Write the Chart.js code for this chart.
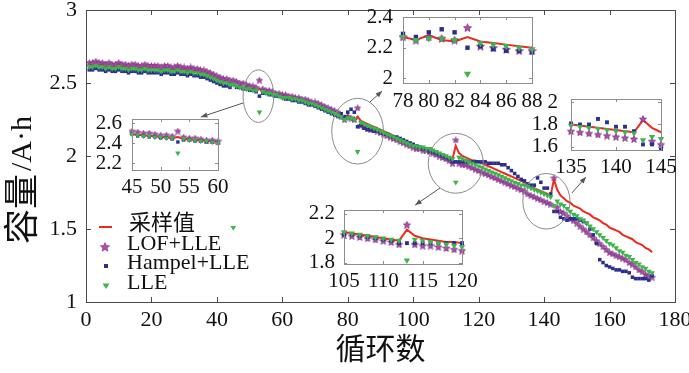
<!DOCTYPE html>
<html>
<head>
<meta charset="utf-8">
<title>容量</title>
<script src="https://cdn.jsdelivr.net/npm/chart.js@4.4.1/dist/chart.umd.min.js"></script>
<style>
html, body { margin: 0; padding: 0; background: #fff; }
#wrap { position: relative; width: 689px; height: 373px; overflow: hidden; }
#wrap canvas { position: absolute; }
.lg { position: absolute; font-family: "Liberation Serif", "Noto Sans CJK SC", serif; font-size: 22px; line-height: 22px; color: #111; white-space: nowrap; }
.mk { position: absolute; }
</style>
</head>
<body>
<div id="wrap">
  <canvas id="main" width="689" height="373" style="left:0;top:0;width:689px;height:373px"></canvas>
  <canvas id="in1"></canvas>
  <canvas id="in2"></canvas>
  <canvas id="in3"></canvas>
  <canvas id="in4"></canvas>
  <div id="legend"></div>
</div>
<script>
// labels and ticks
const legendLabels = ['采样值', 'LOF+LLE', 'Hampel+LLE', 'LLE'];
const xTitle = '循环数';
const yTitle = '容量/A·h';
const xTicksMain = [0, 20, 40, 60, 80, 100, 120, 140, 160, 180];
const yTicksMain = [1, 1.5, 2, 2.5, 3];
const in1XTicks = [45, 50, 55, 60], in1YTicks = [2.2, 2.4, 2.6];
const in2XTicks = [78, 80, 82, 84, 86, 88], in2YTicks = [2, 2.2, 2.4];
const in3XTicks = [105, 110, 115, 120], in3YTicks = [1.8, 2, 2.2];
const in4XTicks = [135, 140, 145], in4YTicks = [1.6, 1.8, 2];

// capacity per cycle (cycle 1..173)
const sampled = [
 2.62,2.62,2.63,2.62,2.62,2.61,2.62,2.61,2.61,2.62,
 2.61,2.61,2.60,2.61,2.61,2.60,2.60,2.61,2.60,2.60,
 2.60,2.60,2.59,2.60,2.60,2.59,2.59,2.60,2.59,2.59,
 2.58,2.59,2.58,2.58,2.57,2.57,2.56,2.55,2.54,2.53,
 2.52,2.51,2.51,2.50,2.49,2.48,2.48,2.47,2.47,2.46,
 2.46,2.45,2.46,2.44,2.44,2.43,2.43,2.42,2.42,2.41,
 2.41,2.40,2.40,2.39,2.39,2.38,2.38,2.37,2.36,2.36,
 2.35,2.34,2.33,2.32,2.31,2.30,2.29,2.27,2.25,2.28,
 2.25,2.24,2.27,2.24,2.23,2.22,2.21,2.20,2.19,2.18,
 2.17,2.16,2.15,2.14,2.13,2.12,2.11,2.10,2.09,2.08,
 2.07,2.06,2.06,2.05,2.05,2.04,2.03,2.02,2.01,2.00,
 1.99,1.98,2.07,2.02,2.00,1.99,1.98,1.97,1.97,1.96,
 1.95,1.94,1.93,1.92,1.91,1.90,1.89,1.88,1.87,1.86,
 1.85,1.84,1.83,1.82,1.80,1.79,1.78,1.77,1.76,1.75,
 1.74,1.73,1.84,1.77,1.73,1.71,1.69,1.68,1.66,1.65,
 1.64,1.62,1.61,1.60,1.58,1.57,1.56,1.54,1.53,1.51,
 1.50,1.49,1.48,1.46,1.45,1.44,1.43,1.41,1.40,1.39,
 1.37,1.36,1.34
];
const lofLle = [
 2.64,2.64,2.65,2.64,2.64,2.63,2.64,2.63,2.63,2.64,
 2.63,2.63,2.62,2.63,2.63,2.62,2.62,2.63,2.62,2.62,
 2.62,2.62,2.61,2.62,2.62,2.61,2.61,2.62,2.61,2.61,
 2.60,2.61,2.60,2.60,2.59,2.59,2.58,2.57,2.56,2.55,
 2.54,2.53,2.53,2.52,2.52,2.51,2.50,2.50,2.49,2.48,
 2.48,2.47,2.52,2.46,2.45,2.45,2.44,2.43,2.43,2.42,
 2.42,2.41,2.41,2.40,2.40,2.39,2.39,2.38,2.37,2.37,
 2.36,2.35,2.34,2.33,2.32,2.31,2.30,2.27,2.25,2.27,
 2.26,2.25,2.33,2.21,2.20,2.19,2.18,2.18,2.17,2.16,
 2.15,2.14,2.13,2.12,2.11,2.10,2.09,2.08,2.07,2.06,
 2.05,2.05,2.04,2.04,2.03,2.02,2.01,2.00,1.99,1.98,
 1.97,1.95,2.11,1.95,1.94,1.94,1.93,1.92,1.91,1.90,
 1.89,1.88,1.87,1.86,1.85,1.84,1.83,1.82,1.81,1.80,
 1.79,1.78,1.77,1.76,1.74,1.73,1.72,1.71,1.70,1.69,
 1.68,1.67,1.85,1.65,1.62,1.61,1.59,1.57,1.56,1.54,
 1.52,1.50,1.48,1.46,1.44,1.42,1.40,1.38,1.36,1.34,
 1.33,1.32,1.31,1.30,1.29,1.27,1.26,1.24,1.22,1.21,
 1.19,1.18,1.17
];
const hampelLle = [
 2.59,2.59,2.60,2.59,2.59,2.58,2.59,2.58,2.58,2.59,
 2.58,2.58,2.57,2.58,2.58,2.57,2.57,2.58,2.57,2.57,
 2.57,2.57,2.56,2.57,2.57,2.56,2.56,2.57,2.56,2.56,
 2.55,2.56,2.55,2.55,2.54,2.54,2.53,2.52,2.51,2.50,
 2.49,2.48,2.48,2.47,2.49,2.47,2.47,2.46,2.46,2.45,
 2.45,2.44,2.41,2.43,2.43,2.42,2.42,2.41,2.41,2.40,
 2.39,2.39,2.38,2.38,2.37,2.37,2.36,2.35,2.35,2.34,
 2.33,2.32,2.31,2.30,2.29,2.28,2.27,2.29,2.27,2.30,
 2.32,2.30,2.20,2.21,2.19,2.18,2.18,2.17,2.17,2.16,
 2.15,2.15,2.14,2.13,2.13,2.12,2.11,2.10,2.09,2.08,
 2.07,2.06,2.05,2.05,2.03,2.03,2.02,2.01,2.00,1.99,
 1.98,1.96,1.96,1.96,1.96,1.96,1.96,1.96,1.96,1.96,
 1.96,1.96,1.95,1.95,1.95,1.95,1.94,1.94,1.92,1.90,
 1.88,1.86,1.84,1.83,1.81,1.80,1.80,1.85,1.82,1.78,
 1.78,1.74,1.62,1.62,1.58,1.57,1.56,1.57,1.57,1.57,
 1.56,1.55,1.54,1.50,1.46,1.40,1.29,1.27,1.25,1.24,
 1.23,1.22,1.22,1.21,1.21,1.20,1.17,1.16,1.16,1.16,
 1.16,1.15,1.18
];
const lle = [
 2.61,2.61,2.62,2.61,2.61,2.60,2.61,2.60,2.60,2.61,
 2.60,2.60,2.59,2.60,2.60,2.59,2.59,2.60,2.59,2.59,
 2.59,2.59,2.58,2.59,2.59,2.58,2.58,2.59,2.58,2.58,
 2.57,2.58,2.57,2.57,2.56,2.56,2.55,2.54,2.53,2.52,
 2.51,2.50,2.50,2.49,2.49,2.48,2.47,2.47,2.46,2.46,
 2.45,2.45,2.30,2.44,2.43,2.43,2.42,2.42,2.41,2.40,
 2.40,2.40,2.39,2.39,2.38,2.38,2.37,2.36,2.36,2.35,
 2.34,2.33,2.32,2.31,2.30,2.29,2.28,2.27,2.25,2.26,
 2.26,2.25,2.03,2.23,2.22,2.21,2.20,2.19,2.18,2.17,
 2.16,2.15,2.14,2.13,2.12,2.11,2.10,2.09,2.08,2.07,
 2.07,2.06,2.06,2.05,2.05,2.04,2.03,2.02,2.01,2.00,
 1.99,1.98,1.82,1.99,1.98,1.97,1.96,1.95,1.94,1.93,
 1.92,1.91,1.90,1.89,1.88,1.87,1.86,1.85,1.84,1.83,
 1.82,1.81,1.80,1.80,1.79,1.78,1.77,1.76,1.75,1.74,
 1.73,1.72,1.66,1.69,1.67,1.66,1.64,1.62,1.60,1.59,
 1.57,1.56,1.54,1.52,1.50,1.48,1.46,1.44,1.42,1.40,
 1.39,1.37,1.35,1.34,1.32,1.31,1.29,1.27,1.26,1.24,
 1.23,1.21,1.20
];
const cycles = sampled.map((v, i) => i + 1);
// lone green marker next to the legend
const strayX = [45], strayY = [1.51];

// callouts in data units: ellipse [cx, cy, rx, ry], arrow [x0, y0, x1, y1]
const calloutEllipses = [[52.7, 2.41, 4.7, 0.18], [83.0, 2.17, 7.9, 0.225], [113.0, 1.95, 8.4, 0.205], [140.7, 1.69, 7.2, 0.19]];
const calloutArrows = [[48.0, 2.363, 35.1, 2.267], [86.8, 2.37, 90.5, 2.445], [108.2, 1.781, 100.6, 1.664], [148.5, 1.747, 152.8, 1.856]];

const RED = '#f0281e', PURPLE = '#b04fae', PURPLE_EDGE = '#7d2d83', BLUE = '#2b2e8e', GREEN = '#3cb54a';
const SERIF = "'Liberation Serif', 'Noto Sans CJK SC', serif";

function starImage(size) {
    var c = document.createElement('canvas');
    c.width = size; c.height = size;
    var g = c.getContext('2d');
    var R = size / 2 - 0.3, r = R * 0.45;
    g.beginPath();
    for (let k = 0; k < 10; k++) {
        var a = -Math.PI / 2 + k * Math.PI / 5;
        var rr = (k % 2) ? r : R;
        g.lineTo(size / 2 + rr * Math.cos(a), size / 2 + 0.4 + rr * Math.sin(a));
    }
    g.closePath();
    g.fillStyle = PURPLE; g.fill();
    g.strokeStyle = PURPLE_EDGE; g.lineWidth = 0.8; g.stroke();
    return c;
}

function pts(arr, lo, hi) {
    var out = [];
    arr.forEach(function (v, i) {
        if (cycles[i] >= lo && cycles[i] <= hi) out.push({ x: cycles[i], y: v });
    });
    return out;
}

function makeDatasets(lo, hi, k) {
    return [
        { label: legendLabels[0], data: pts(sampled, lo, hi), borderColor: RED, borderWidth: 2, pointRadius: 0, fill: false, order: 3 },
        { label: legendLabels[1], data: pts(lofLle, lo, hi), showLine: false, pointStyle: starImage(Math.round(7 * k)), pointRadius: 3.5 * k, order: 2 },
        { label: legendLabels[2], data: pts(hampelLle, lo, hi), showLine: false, pointStyle: 'rect', pointRadius: 2.5 * k,
          pointBackgroundColor: BLUE, pointBorderWidth: 0, order: 1 },
        { label: legendLabels[3], data: pts(lle, lo, hi), showLine: false, pointStyle: 'triangle', pointRotation: 180, pointRadius: 3.3 * k,
          pointBackgroundColor: GREEN, pointBorderWidth: 0, order: 0 }
    ];
}

// box round the plot area with inward ticks on all four sides
const framePlugin = {
    id: 'frame',
    afterDraw(chart, args, opts) {
        const ctx = chart.ctx, a = chart.chartArea;
        const xs = chart.scales.x, ys = chart.scales.y;
        ctx.save();
        ctx.strokeStyle = opts.color;
        ctx.lineWidth = 1;
        ctx.strokeRect(a.left + 0.5, a.top + 0.5, a.right - a.left, a.bottom - a.top);
        ctx.beginPath();
        xs.ticks.forEach(function (t) {
            var p = Math.round(xs.getPixelForValue(t.value)) + 0.5;
            ctx.moveTo(p, a.bottom); ctx.lineTo(p, a.bottom - opts.len);
            ctx.moveTo(p, a.top); ctx.lineTo(p, a.top + opts.len);
        });
        ys.ticks.forEach(function (t) {
            var p = Math.round(ys.getPixelForValue(t.value)) + 0.5;
            ctx.moveTo(a.left, p); ctx.lineTo(a.left + opts.len, p);
            ctx.moveTo(a.right, p); ctx.lineTo(a.right - opts.len, p);
        });
        ctx.stroke();
        ctx.restore();
    }
};

// ellipses round the outliers and the arrows to the zoomed views
const calloutPlugin = {
    id: 'callouts',
    afterDatasetsDraw(chart) {
        const ctx = chart.ctx, xs = chart.scales.x, ys = chart.scales.y;
        ctx.save();
        ctx.strokeStyle = '#8a8a8a';
        ctx.lineWidth = 1;
        calloutEllipses.forEach(function (e) {
            var cx = xs.getPixelForValue(e[0]), cy = ys.getPixelForValue(e[1]);
            var rx = Math.abs(xs.getPixelForValue(e[0] + e[2]) - cx);
            var ry = Math.abs(ys.getPixelForValue(e[1] + e[3]) - cy);
            ctx.beginPath();
            ctx.ellipse(cx, cy, rx, ry, 0, 0, Math.PI * 2);
            ctx.stroke();
        });
        ctx.strokeStyle = '#555';
        ctx.fillStyle = '#555';
        calloutArrows.forEach(function (ar) {
            var x0 = xs.getPixelForValue(ar[0]), y0 = ys.getPixelForValue(ar[1]);
            var x1 = xs.getPixelForValue(ar[2]), y1 = ys.getPixelForValue(ar[3]);
            var ang = Math.atan2(y1 - y0, x1 - x0);
            ctx.beginPath();
            ctx.moveTo(x0, y0); ctx.lineTo(x1, y1);
            ctx.stroke();
            ctx.beginPath();
            ctx.moveTo(x1, y1);
            ctx.lineTo(x1 - 7 * Math.cos(ang - 0.38), y1 - 7 * Math.sin(ang - 0.38));
            ctx.lineTo(x1 - 7 * Math.cos(ang + 0.38), y1 - 7 * Math.sin(ang + 0.38));
            ctx.closePath();
            ctx.fill();
        });
        ctx.restore();
    }
};

// y title: the Chinese part is set larger than the unit, as in the source figure
const yTitlePlugin = {
    id: 'ytitle',
    afterDraw(chart, args, opts) {
        const ctx = chart.ctx;
        const cjk = yTitle.slice(0, 2), unit = yTitle.slice(2);
        ctx.save();
        ctx.translate(opts.x, opts.y);
        ctx.rotate(-Math.PI / 2);
        ctx.fillStyle = '#111';
        ctx.textAlign = 'left';
        ctx.textBaseline = 'middle';
        ctx.font = "35px 'Noto Sans CJK SC'";
        ctx.fillText(cjk, 0, 0);
        var w = ctx.measureText(cjk).width;
        ctx.textBaseline = 'alphabetic';
        ctx.font = "30px 'Liberation Serif'";
        ctx.fillText(unit, w + 3, 10);
        ctx.restore();
    }
};

function fixedTicks(list) {
    return function (s) { s.ticks = list.map(v => ({ value: v })); };
}
function plainLabel(v) { return String(v); }

function drawMain() {
    var mainSets = makeDatasets(1, 173, 1);
    mainSets.push({ label: '', data: strayX.map((x, i) => ({ x: x, y: strayY[i] })), showLine: false, pointStyle: 'triangle',
        pointRotation: 180, pointRadius: 3.3, pointBackgroundColor: GREEN, pointBorderWidth: 0, order: 0 });

    new Chart(document.getElementById('main'), {
        type: 'line',
        data: { datasets: mainSets },
        options: {
            responsive: false,
            animation: false,
            devicePixelRatio: 1,
            layout: { padding: { left: 0, top: 10, right: 14, bottom: 0 } },
            plugins: {
                legend: { display: false },
                tooltip: { enabled: false },
                frame: { color: '#4a4a4a', len: 5 },
                ytitle: { x: 21, y: 244 }
            },
            scales: {
                x: {
                    type: 'linear', min: 0, max: 180,
                    afterBuildTicks: fixedTicks(xTicksMain),
                    ticks: { font: { family: SERIF, size: 22 }, color: '#111', padding: 5, maxRotation: 0, autoSkip: false, callback: plainLabel },
                    grid: { display: false, drawTicks: false },
                    border: { display: false },
                    title: { display: true, text: xTitle, font: { family: SERIF, size: 30 }, color: '#111', padding: { top: 0, bottom: 4 } },
                    afterFit: function (s) { s.height = 71; s.paddingLeft = 0; s.paddingRight = 0; }
                },
                y: {
                    min: 1, max: 3,
                    afterBuildTicks: fixedTicks(yTicksMain),
                    ticks: { font: { family: SERIF, size: 22 }, color: '#111', padding: 9, autoSkip: false, callback: plainLabel },
                    grid: { display: false, drawTicks: false },
                    border: { display: false },
                    afterFit: function (s) { s.width = 86; s.paddingTop = 0; s.paddingBottom = 0; }
                }
            }
        },
        plugins: [framePlugin, calloutPlugin, yTitlePlugin]
    });
}

// zoomed views
function makeInset(id, box, xr, yr, xt, yt, k, fs, yPad, xPad) {
    const padL = 60, padR = 28, padT = 10, padB = 44;
    var cv = document.getElementById(id);
    var w = box[2] - box[0] + padL + padR, h = box[3] - box[1] + padT + padB;
    cv.width = w; cv.height = h;
    cv.style.left = (box[0] - padL) + 'px';
    cv.style.top = (box[1] - padT) + 'px';
    cv.style.width = w + 'px';
    cv.style.height = h + 'px';
    var sets = makeDatasets(xr[0], xr[1], k);
    sets.forEach(d => { d.clip = false; });
    new Chart(cv, {
        type: 'line',
        data: { datasets: sets },
        options: {
            responsive: false,
            animation: false,
            devicePixelRatio: 1,
            layout: { padding: { left: 0, top: padT, right: padR, bottom: 0 } },
            plugins: { legend: { display: false }, tooltip: { enabled: false }, frame: { color: '#8c8c8c', len: 3 } },
            scales: {
                x: {
                    type: 'linear', min: xr[0], max: xr[1],
                    afterBuildTicks: fixedTicks(xt),
                    ticks: { font: { family: SERIF, size: fs }, color: '#111', padding: xPad, maxRotation: 0, autoSkip: false, callback: plainLabel },
                    grid: { display: false, drawTicks: false },
                    border: { display: false },
                    afterFit: function (s) { s.height = padB; s.paddingLeft = 0; s.paddingRight = 0; }
                },
                y: {
                    min: yr[0], max: yr[1],
                    afterBuildTicks: fixedTicks(yt),
                    ticks: { font: { family: SERIF, size: fs }, color: '#111', padding: yPad, autoSkip: false, callback: plainLabel },
                    grid: { display: false, drawTicks: false },
                    border: { display: false },
                    afterFit: function (s) { s.width = padL; s.paddingTop = 0; s.paddingBottom = 0; }
                }
            }
        },
        plugins: [framePlugin]
    });
}

// legend, drawn in the lower left of the plot
function drawLegend() {
    var lg = document.getElementById('legend');
    var markers = [
        '<svg width="16" height="10"><line x1="1" y1="5" x2="14" y2="5" stroke="' + RED + '" stroke-width="2"/></svg>',
        '<svg width="16" height="10"><polygon points="7,0.6 8.3,3.6 11.6,3.8 9.1,5.9 9.9,9.2 7,7.4 4.1,9.2 4.9,5.9 2.4,3.8 5.7,3.6" fill="' + PURPLE + '" stroke="' + PURPLE_EDGE + '" stroke-width="0.6"/></svg>',
        '<svg width="16" height="10"><rect x="6" y="3" width="4" height="4" fill="' + BLUE + '"/></svg>',
        '<svg width="16" height="10"><polygon points="4.5,2.5 11.5,2.5 8,8" fill="' + GREEN + '"/></svg>'
    ];
    legendLabels.forEach(function (txt, i) {
        var cy = 223 + i * 19.5;
        var m = document.createElement('div');
        m.className = 'mk';
        m.style.left = '98px';
        m.style.top = (cy - 5) + 'px';
        m.innerHTML = markers[i];
        lg.appendChild(m);
        var t = document.createElement('div');
        t.className = 'lg';
        t.style.left = (i === 0 ? 129 : 127) + 'px';
        t.style.top = (cy - 11) + 'px';
        t.textContent = txt;
        lg.appendChild(t);
    });
}

function drawAll() {
    drawMain();
    makeInset('in1', [132, 119, 218, 170], [45, 60], [2.13, 2.64], in1XTicks, in1YTicks, 0.95, 21, 10, 5);
    makeInset('in2', [403, 17, 532, 83], [78, 88], [1.97, 2.40], in2XTicks, in2YTicks, 1.25, 21, 10, 6);
    makeInset('in3', [344, 210, 462, 264], [105, 120], [1.79, 2.23], in3XTicks, in3YTicks, 1.1, 21, 9, 5);
    makeInset('in4', [571, 99, 661, 150], [135, 145], [1.57, 2.03], in4XTicks, in4YTicks, 1.1, 21, 13, 5);
    drawLegend();
}

document.fonts.load("22px 'Liberation Serif'").then(drawAll, drawAll);
</script>
</body>
</html>
